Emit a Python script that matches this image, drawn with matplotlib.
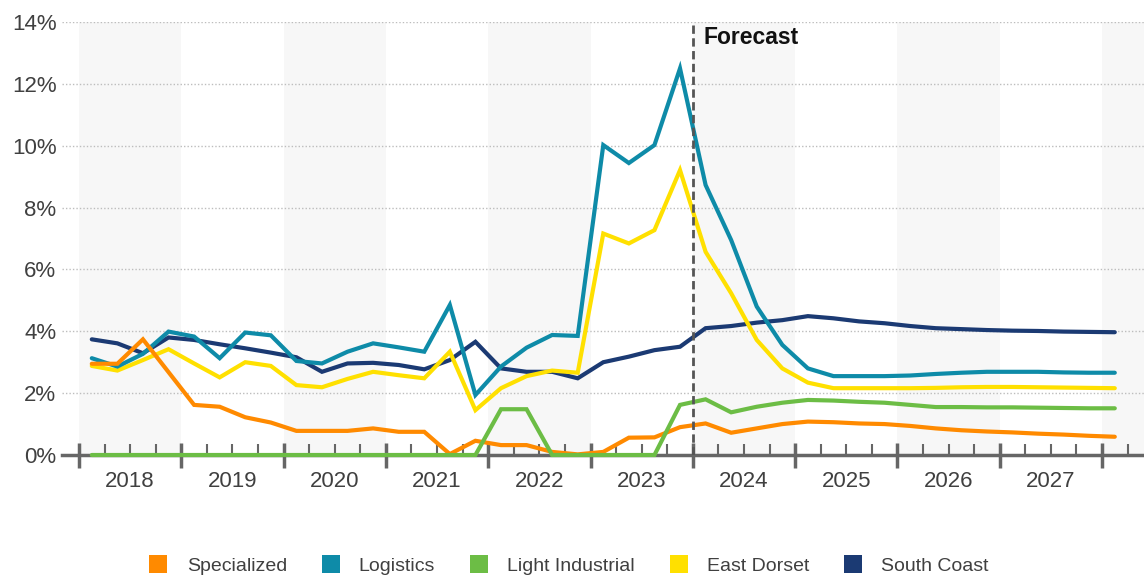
import matplotlib
matplotlib.use("Agg")
import matplotlib.pyplot as plt
from matplotlib.lines import Line2D
from matplotlib.ticker import FixedLocator, FuncFormatter

plt.rcParams['font.family'] = ['Liberation Sans', 'DejaVu Sans']

# ---- data ----
start_year = 2018
n_quarters = 41
quarters = [f"{y}Q{q}" for y in range(2018, 2029) for q in range(1, 5)][:n_quarters]
year_labels = ["2018", "2019", "2020", "2021", "2022", "2023", "2024", "2025", "2026", "2027"]
y_ticks = [0, 2, 4, 6, 8, 10, 12, 14]

specialized = [2.95, 2.95, 3.74, 2.68, 1.62, 1.56, 1.22, 1.05, 0.78, 0.78,
               0.78, 0.86, 0.75, 0.75, 0.03, 0.46, 0.32, 0.32, 0.10, 0.02,
               0.10, 0.56, 0.57, 0.90, 1.02, 0.72, 0.86, 1.00, 1.08, 1.06,
               1.02, 1.00, 0.94, 0.86, 0.80, 0.76, 0.73, 0.69, 0.66, 0.62, 0.59]
logistics = [3.13, 2.86, 3.27, 3.99, 3.83, 3.13, 3.96, 3.87, 3.04, 2.96,
             3.34, 3.61, 3.48, 3.34, 4.85, 1.94, 2.86, 3.47, 3.88, 3.85,
             10.02, 9.44, 10.02, 12.50, 8.73, 6.95, 4.80, 3.56, 2.80, 2.55,
             2.55, 2.55, 2.57, 2.62, 2.66, 2.69, 2.69, 2.69, 2.67, 2.66, 2.66]
light_industrial = [0, 0, 0, 0, 0, 0, 0, 0, 0, 0,
                    0, 0, 0, 0, 0, 0, 1.48, 1.48, 0, 0,
                    0, 0, 0, 1.62, 1.80, 1.38, 1.56, 1.69, 1.78, 1.76,
                    1.72, 1.69, 1.62, 1.55, 1.55, 1.54, 1.54, 1.53, 1.52, 1.51, 1.51]
east_dorset = [2.88, 2.73, 3.07, 3.42, 2.96, 2.51, 3.00, 2.88, 2.26, 2.19,
               2.46, 2.69, 2.58, 2.48, 3.34, 1.45, 2.16, 2.55, 2.73, 2.66,
               7.16, 6.84, 7.27, 9.21, 6.57, 5.23, 3.72, 2.80, 2.34, 2.16,
               2.16, 2.16, 2.16, 2.17, 2.19, 2.20, 2.20, 2.19, 2.18, 2.17, 2.16]
south_coast = [3.74, 3.61, 3.29, 3.80, 3.72, 3.58, 3.45, 3.31, 3.16, 2.69,
               2.96, 2.98, 2.91, 2.77, 3.07, 3.66, 2.80, 2.69, 2.69, 2.48,
               3.00, 3.18, 3.39, 3.50, 4.10, 4.17, 4.28, 4.36, 4.49, 4.42,
               4.32, 4.26, 4.17, 4.10, 4.07, 4.04, 4.02, 4.01, 3.99, 3.98, 3.97]

series_names = ["Specialized", "Logistics", "Light Industrial", "East Dorset", "South Coast"]
colors = {"Specialized": "#FF8A00", "Logistics": "#0E8BA8", "Light Industrial": "#6CBD45",
          "East Dorset": "#FFE000", "South Coast": "#1B3A73"}
forecast_start = 2024

# x position: middle of each quarter, in fractional years
def qpos(label):
    y, q = label.split("Q")
    return int(y) + (int(q) - 0.5) / 4

xs = [qpos(q) for q in quarters]

fig = plt.figure(figsize=(11.44, 5.80), dpi=100)
ax = fig.add_axes([62 / 1144, 1 - 455 / 580, 1 - 62 / 1144, (455 - 22) / 580])

xmin = 2018 - 17 / 102.3
xmax = 2018 + (1144 - 79) / 102.3
ax.set_xlim(xmin, xmax)
ax.set_ylim(0, 14)

# alternating year shading
for yr in range(2018, 2030, 2):
    ax.axvspan(yr, yr + 1, color="#F7F7F7", zorder=0, lw=0)

# grid
for v in y_ticks[1:]:
    ax.axhline(v, color="#BDBDBD", lw=1, ls=(0, (1, 1.5)), zorder=1)

# lines
draw_order = [("South Coast", south_coast), ("East Dorset", east_dorset),
              ("Logistics", logistics), ("Specialized", specialized),
              ("Light Industrial", light_industrial)]
for i, (name, vals) in enumerate(draw_order):
    ax.plot(xs, vals, color=colors[name], lw=3, solid_capstyle='round',
            solid_joinstyle='miter', zorder=5 + i, clip_on=False)

# forecast marker
ax.axvline(forecast_start, color="#555555", lw=2, ls=(0, (3, 1.6)), zorder=12)
ax.text(forecast_start + 11 / 102.3, 13.5, "Forecast", fontsize=16.5, fontweight='bold',
        color="#111111", va='center', ha='left', zorder=13)

# spines
for s in ["top", "right", "left"]:
    ax.spines[s].set_visible(False)
ax.spines["bottom"].set_color("#666666")
ax.spines["bottom"].set_linewidth(2.5)
ax.spines["bottom"].set_zorder(4)

# y ticks
ax.set_yticks(y_ticks)
ax.yaxis.set_major_formatter(FuncFormatter(lambda v, p: f"{int(v)}%"))
ax.tick_params(axis='y', length=0, pad=4, labelsize=16, labelcolor="#404040")

# x ticks: major at year boundaries, minor at quarter boundaries
ax.xaxis.set_major_locator(FixedLocator(list(range(2018, 2029))))
ax.xaxis.set_minor_locator(FixedLocator([y + q / 4 for y in range(2017, 2029) for q in (1, 2, 3)
                                         if xmin < y + q / 4 < xmax]))
ax.set_xticklabels([])
ax.tick_params(axis='x', which='major', direction='inout', length=18, width=2.5, color="#666666")
ax.tick_params(axis='x', which='minor', direction='in', length=8, width=1.5, color="#666666")

for i, lab in enumerate(year_labels):
    ax.text(2018 + i + 0.5, -0.86, lab, transform=ax.transData, ha='center', va='center',
            fontsize=16, color="#404040", clip_on=False)

# legend
handles = [Line2D([], [], marker='s', ls='none', markersize=12.3, markeredgewidth=0,
                  color=colors[n]) for n in series_names]
fig.legend(handles, series_names, loc='center', bbox_to_anchor=(0.4975, 1 - 566 / 580),
           ncol=5, frameon=False, fontsize=14, labelcolor="#404040",
           handlelength=0.9, handletextpad=1.0, columnspacing=1.8,
           borderpad=0, borderaxespad=0)

fig.savefig("out.png", dpi=100)
